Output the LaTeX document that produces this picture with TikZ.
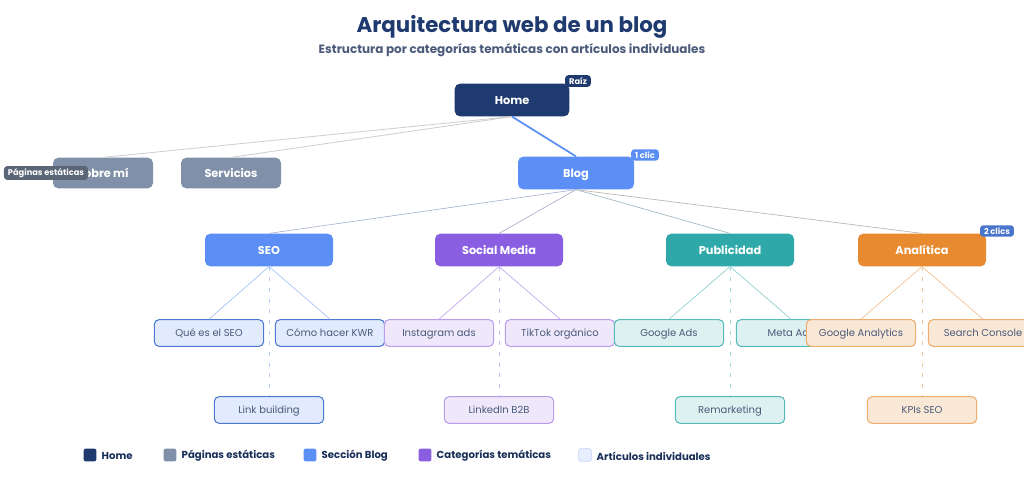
\documentclass[tikz,border=0pt]{standalone}
\usepackage{fontspec}
\setmainfont{Poppins}
\begin{document}
\begin{tikzpicture}[x=0.75pt,y=-0.75pt,
 box/.style={rounded corners=4pt,minimum height=24.5pt,text=white,font=\fontsize{8.5}{10}\selectfont\bfseries,inner sep=0pt,text height=6.8pt,text depth=0pt},
 art/.style={rounded corners=3.5pt,minimum width=82pt,minimum height=20pt,font=\fontsize{7.5}{9}\selectfont,text=#1,inner sep=0pt,line width=0.8pt,text height=5.8pt,text depth=0pt},
 badge/.style={rounded corners=2.5pt,fill=#1,text=white,font=\fontsize{6.2}{7}\selectfont\bfseries,inner xsep=3pt,inner ysep=1.8pt},
 lg/.style={font=\fontsize{7.6}{9}\selectfont\bfseries,text=navy!80!black,anchor=west},
 sq/.style={rounded corners=1.5pt,minimum size=9.5pt,inner sep=0pt}]
\definecolor{navy}{HTML}{1E3A6E}
\definecolor{gry}{HTML}{8090A8}
\definecolor{blu}{HTML}{5B8FF5}
\definecolor{pur}{HTML}{8A5EE0}
\definecolor{tea}{HTML}{2EA8A8}
\definecolor{ora}{HTML}{E88A30}
\definecolor{txt}{HTML}{4A5A7A}
\useasboundingbox (0,0) rectangle (1024,499);
\clip (0,0) rectangle (1024,499);
\node[font=\fontsize{16}{18}\selectfont\bfseries,text=navy] (title) at (512,27) {Arquitectura web de un blog};
\node[font=\fontsize{9}{11}\selectfont\bfseries,text=txt] (sub) at (512,50) {Estructura por categorías temáticas con artículos individuales};
% main nodes
\node[box,fill=navy,minimum width=86pt] (home) at (512,100) {Home};
\node[box,fill=gry,minimum width=75pt,minimum height=23pt] (sobre) at (103,173) {Sobre mí};
\node[box,fill=gry,minimum width=75pt,minimum height=23pt] (serv) at (231,173) {Servicios};
\node[box,fill=blu,minimum width=87pt] (blog) at (576,173) {Blog};
\foreach \n/\x/\c/\t in {seo/269/blu/SEO,soc/499/pur/Social Media,pub/730/tea/Publicidad,ana/922/ora/Analítica}
  \node[box,fill=\c,minimum width=96pt] (\n) at (\x,250) {\t};
% edges
\draw[gray!40,line width=0.6pt] (home.south) -- (sobre.north);
\draw[gray!40,line width=0.6pt] (home.south) -- (serv.north);
\draw[blu,line width=1.3pt] (home.south) -- (blog.north);
\foreach \n/\c in {seo/blu,soc/pur,pub/tea,ana/ora}
  \draw[\c!30!txt!50,line width=0.5pt] (blog.south) -- (\n.north);
% articles
\tikzset{
 aseo/.style={art=txt,fill=blu!18,draw=blu!85!black},
 asoc/.style={art=txt,fill=pur!14,draw=pur!60},
 apub/.style={art=txt,fill=tea!16,draw=tea!80},
 aana/.style={art=txt,fill=ora!20,draw=ora!70}}
\node[aseo] (a1) at (209,333) {Qué es el SEO};
\node[aseo] (a2) at (330,333) {Cómo hacer KWR};
\node[aseo] (a3) at (269,410) {Link building};
\node[asoc] (b1) at (439,333) {Instagram ads};
\node[asoc] (b2) at (560,333) {TikTok orgánico};
\node[asoc] (b3) at (499,410) {LinkedIn B2B};
\node[apub] (c1) at (669,333) {Google Ads};
\node[apub] (c2) at (791,333) {Meta Ads};
\node[apub] (c3) at (730,410) {Remarketing};
\node[aana] (d1) at (861,333) {Google Analytics};
\node[aana] (d2) at (983,333) {Search Console};
\node[aana] (d3) at (922,410) {KPIs SEO};
\foreach \p/\x/\y/\z/\c in {seo/a1/a2/a3/blu,soc/b1/b2/b3/pur,pub/c1/c2/c3/tea,ana/d1/d2/d3/ora}{
  \draw[\c!55,line width=0.5pt] (\p.south) -- (\x.north);
  \draw[\c!55,line width=0.5pt] (\p.south) -- (\y.north);
  \draw[\c!45,line width=0.6pt,dash pattern=on 3pt off 5pt] (\p.south) -- (\z.north);}
% badges
\node[badge=navy] (braiz) at (578,81) {Raíz};
\node[badge=blu] (b1c) at (645,155) {1 clic};
\node[badge=blu!70!navy] (b2c) at (997,231) {2 clics};
\node[badge=gry!70!black] (bpag) at (46,173) {Páginas estáticas};
% legend
\node[sq,fill=navy] (l1) at (90,455) {}; \node[lg] at (97,456) {Home};
\node[sq,fill=gry] (l2) at (170,455) {}; \node[lg] at (177,456) {Páginas estáticas};
\node[sq,fill=blu] (l3) at (310,455) {}; \node[lg] at (317,456) {Sección Blog};
\node[sq,fill=pur] (l4) at (425,455) {}; \node[lg] at (432,456) {Categorías temáticas};
\node[sq,fill=blu!15,draw=blu!40] (l5) at (585,455) {}; \node[lg] at (592,456) {Artículos individuales};
\end{tikzpicture}
\end{document}
